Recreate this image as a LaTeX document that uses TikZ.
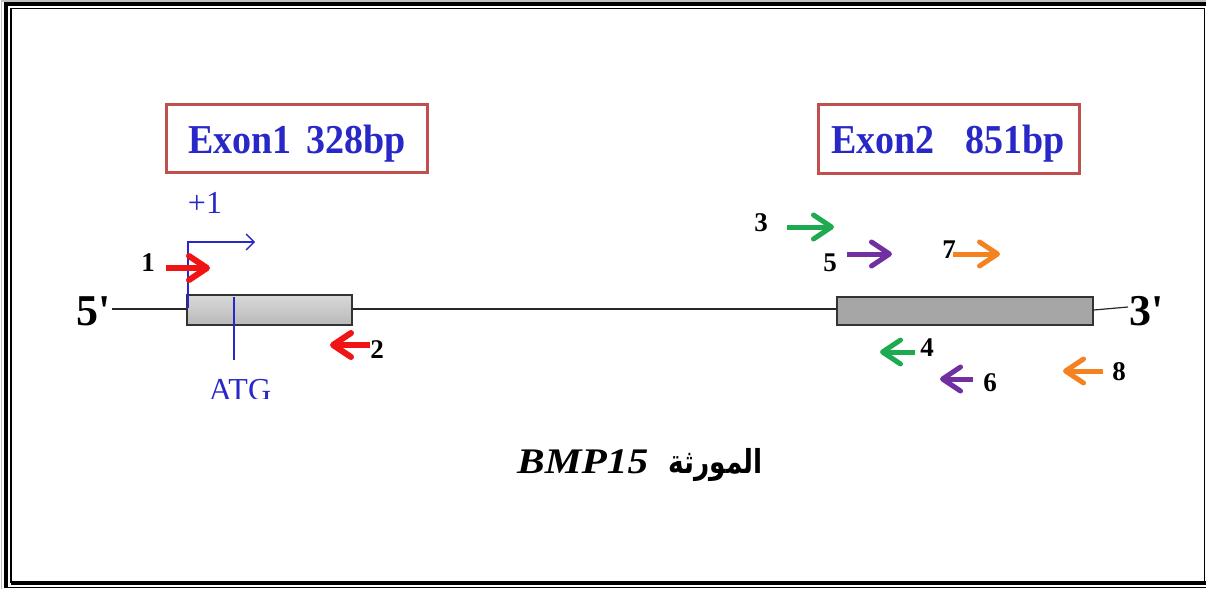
\documentclass[tikz,border=0pt]{standalone}
\usepackage{fontspec}
\setmainfont{Liberation Serif}
\newfontfamily\arabicfont[Script=Arabic]{DejaVu Sans}
\TeXXeTstate=1
\usetikzlibrary{arrows.meta}
\definecolor{exblue}{RGB}{40,40,200}
\definecolor{exred}{RGB}{192,80,77}
\definecolor{pred}{RGB}{240,20,20}
\definecolor{pgreen}{RGB}{30,170,80}
\definecolor{ppurple}{RGB}{112,48,160}
\definecolor{porange}{RGB}{245,130,32}
\definecolor{boxgray}{RGB}{166,166,166}
\begin{document}
\begin{tikzpicture}[x=1pt,y=-1pt,
  labelbox/.style={draw=exred,line width=3,minimum width=261,minimum height=68,inner sep=0},
  exontext/.style={font=\fontsize{38}{40}\selectfont\bfseries,text=exblue,inner sep=0,yscale=1.08},
  genebox/.style={draw=black!80,line width=1.5,inner sep=0},
  intron/.style={line width=1.2,black!85},
  endlabel/.style={font=\fontsize{44}{46}\selectfont\bfseries,inner sep=0},
  num/.style={font=\fontsize{27}{29}\selectfont\bfseries,inner sep=0},
  primer/.style={line width=5,-{Straight Barb[length=18,width=24,round]}},
  bluetext/.style={font=\fontsize{32}{34}\selectfont,text=exblue,inner sep=0}]
\useasboundingbox (0,0) rectangle (1206,589);
% frame
\draw[gray!50,line width=1.5] (1.5,589) -- (1.5,0.8) -- (1206,0.8);
\draw[line width=4] (6,587) -- (6,4) -- (1206,4);
\draw[line width=1.2] (11,583) -- (11,8.5) -- (1204.5,8.5) -- (1204.5,583);
\draw[line width=4] (11,583) -- (1206,583);
\draw[line width=1] (4,587.5) -- (1206,587.5);
% exon labels
\node[labelbox] (lab1) at (296.5,138) {};
\node[exontext,anchor=base] (t1) at (297,153) {Exon1\hspace{0.4em}328bp};
\node[labelbox,minimum height=69] (lab2) at (948.5,138.5) {};
\node[exontext,anchor=base] (t2) at (948,153) {Exon2\hspace{0.8em}851bp};
% gene
\node[genebox,top color=gray!30,bottom color=gray!55,minimum width=165,minimum height=30] (ex1) at (269.5,310) {};
\node[genebox,fill=boxgray,minimum width=256,minimum height=28] (ex2) at (965,311) {};
\node[endlabel,anchor=east] (five) at (111,311) {5\textquotesingle};
\node[endlabel,anchor=west] (three) at (1129,311) {3\textquotesingle};
\coordinate (fiveend) at (112,309);
\coordinate (threeend) at (1128,307);
\draw[intron] (fiveend) -- (ex1.west |- fiveend);
\draw[intron] (ex1.east |- fiveend) -- (ex2.west |- fiveend);
\draw[intron] (ex2.east |- 0,310) -- (threeend);
% promoter / ATG
\coordinate (tss0) at (188,308);
\coordinate (tss1) at (188,242);
\coordinate (tss2) at (255,242);
\draw[exblue,line width=1.3,-{Straight Barb[length=8,width=16]}] (tss0) -- (tss1) -- (tss2);
\node[bluetext,anchor=base] (plus) at (205,213) {+1};
\coordinate (atg0) at (234,297);
\coordinate (atg1) at (234,360);
\draw[exblue,line width=1.3] (atg0) -- (atg1);
\begin{scope}
\clip (150,365) rectangle (330,398);
\node[bluetext,anchor=base] (atg) at (240,400) {ATG};
\end{scope}
% primers
\coordinate (p1a) at (166,268); \coordinate (p1b) at (210,268);
\coordinate (p2a) at (370,345); \coordinate (p2b) at (330,345);
\coordinate (p3a) at (787,227); \coordinate (p3b) at (834,227);
\coordinate (p4a) at (915,352); \coordinate (p4b) at (880,352);
\coordinate (p5a) at (847,254); \coordinate (p5b) at (892,254);
\coordinate (p6a) at (973,379); \coordinate (p6b) at (940,379);
\coordinate (p7a) at (953,254); \coordinate (p7b) at (1000,254);
\coordinate (p8a) at (1103,371); \coordinate (p8b) at (1063,371);
\draw[primer,pred,line width=6] (p1a) -- (p1b);
\draw[primer,pred,line width=6] (p2a) -- (p2b);
\draw[primer,pgreen] (p3a) -- (p3b);
\draw[primer,pgreen] (p4a) -- (p4b);
\draw[primer,ppurple] (p5a) -- (p5b);
\draw[primer,ppurple] (p6a) -- (p6b);
\draw[primer,porange] (p7a) -- (p7b);
\draw[primer,porange] (p8a) -- (p8b);
\node[num] (n1) at (148,263) {1};
\node[num] (n2) at (377,350) {2};
\node[num] (n3) at (761,223) {3};
\node[num] (n4) at (927,348) {4};
\node[num] (n5) at (830,263) {5};
\node[num] (n6) at (990,383) {6};
\node[num] (n7) at (949,250) {7};
\node[num] (n8) at (1119,372) {8};
% title
\node[font=\fontsize{36}{38}\selectfont\bfseries\itshape,anchor=base west,inner sep=0,xscale=1.15] (bmp) at (517,473) {BMP15};
\node[font=\fontsize{30}{32}\selectfont\arabicfont\bfseries,anchor=base east,inner sep=0,xscale=0.88,yscale=1.1] (ar) at (763,473) {\beginR المورثة\endR};
\end{tikzpicture}
\end{document}
